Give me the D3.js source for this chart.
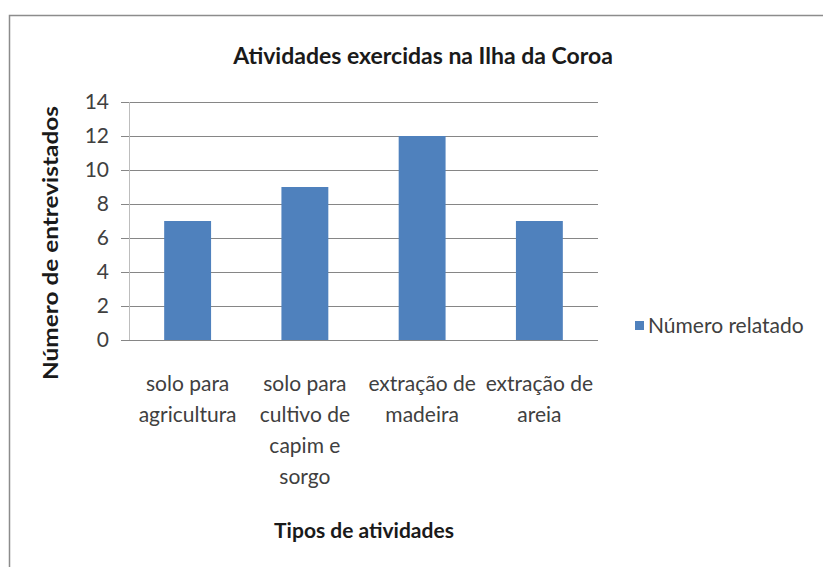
<!DOCTYPE html>
<html><head><meta charset="utf-8">
<script src="https://cdn.jsdelivr.net/npm/d3@7"></script>
<style>
html,body{margin:0;padding:0;background:#fff;}
text{font-family:Lato,"Open Sans",sans-serif;}
</style></head>
<body>
<svg id="chart" width="823" height="567"></svg>
<script>
const categories = ["solo para agricultura","solo para cultivo de capim e sorgo","extração de madeira","extração de areia"];
const categoryLines = [["solo para","agricultura"],["solo para","cultivo de","capim e","sorgo"],["extração de","madeira"],["extração de","areia"]];
const values = [7, 9, 12, 7];
const yTicks = [0,2,4,6,8,10,12,14];
const seriesName = "Número relatado";
const title = "Atividades exercidas na Ilha da Coroa";
const xTitle = "Tipos de atividades";
const yTitle = "Número de entrevistados";

const svg = d3.select("#chart");
const W = 823, H = 567;
const m = {left:129, right:598, top:102, bottom:340};

svg.append("rect").attr("x",9.5).attr("y",15.5).attr("width",W+10).attr("height",H+10)
  .attr("fill","#fff").attr("stroke","#8c8c8c").attr("stroke-width",1.5);

const x = d3.scaleBand().domain(categories).range([m.left,m.right]).paddingInner(0.6).paddingOuter(0.3);
const y = d3.scaleLinear().domain([0,14]).range([m.bottom,m.top]);

// gridlines
svg.append("g").selectAll("line").data(yTicks).join("line")
  .attr("x1",m.left-8).attr("x2",m.right)
  .attr("y1",d=>y(d)+0.5).attr("y2",d=>y(d)+0.5)
  .attr("stroke","#868686").attr("stroke-width",1.2);

// y axis line
svg.append("line").attr("x1",m.left+0.5).attr("x2",m.left+0.5).attr("y1",m.top).attr("y2",m.bottom)
  .attr("stroke","#bdbdbd").attr("stroke-width",1);

// y labels
const yAxis = d3.axisLeft(y).tickValues(yTicks).tickSize(0).tickPadding(0);
const ya = svg.append("g").attr("transform",`translate(${m.left-20},0)`).call(yAxis);
ya.select(".domain").remove();
ya.selectAll("text").attr("font-size",21).attr("fill","#404040").attr("font-family","Lato,sans-serif");

// bars
svg.append("g").selectAll("rect").data(values).join("rect")
  .attr("x",(d,i)=>x(categories[i])).attr("width",x.bandwidth())
  .attr("y",d=>y(d)).attr("height",d=>y(0)-y(d))
  .attr("fill","#4f81bd");

// x labels
const xl = svg.append("g");
categoryLines.forEach((lines,i)=>{
  const cx = x(categories[i]) + x.bandwidth()/2;
  const t = xl.append("text").attr("text-anchor","middle").attr("font-size",21).attr("fill","#404040");
  lines.forEach((l,j)=>t.append("tspan").attr("x",cx).attr("y",391+j*31).text(l));
});

// titles
svg.append("text").attr("x",423).attr("y",64).attr("text-anchor","middle")
  .attr("font-size",23).attr("font-weight","bold").attr("fill","#1a1a1a").text(title);
svg.append("text").attr("x",364).attr("y",538).attr("text-anchor","middle")
  .attr("font-size",21).attr("font-weight","bold").attr("fill","#1a1a1a").text(xTitle);
svg.append("text").attr("transform","translate(58,243) rotate(-90)").attr("text-anchor","middle")
  .attr("font-size",20).attr("font-weight","bold").attr("fill","#1a1a1a")
  .attr("textLength",274).attr("lengthAdjust","spacingAndGlyphs").text(yTitle);

// legend
svg.append("rect").attr("x",635).attr("y",321).attr("width",9).attr("height",9).attr("fill","#4f81bd");
svg.append("text").attr("x",648).attr("y",333).attr("font-size",21).attr("fill","#404040").text(seriesName);
</script>
</body></html>
